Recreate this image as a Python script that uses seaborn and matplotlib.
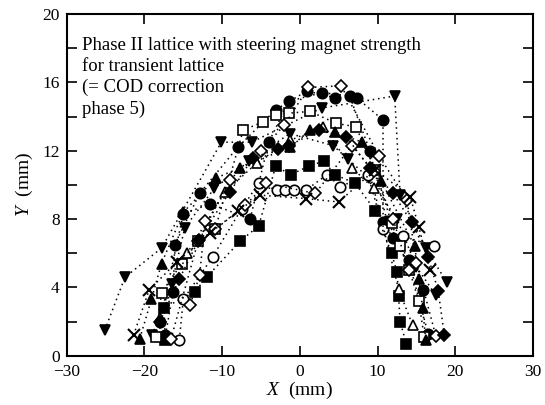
import matplotlib
matplotlib.use("Agg")
import matplotlib.pyplot as plt
import seaborn as sns
import pandas as pd

# ---- data ----
tri_down_a_x = [-25.1, -22.5, -17.8, -10.1, -6.2, 2.8, 12.2, 12.9, 16.2, 18.9]
tri_down_a_y = [1.5, 4.6, 6.3, 12.5, 12.5, 14.5, 15.2, 9.4, 6.3, 4.3]

tri_down_b_x = [-19.0, -16.5, -14.8, -11.0, -6.5, -1.3, 4.3, 6.2, 8.9, 12.5, 15.0, 17.5]
tri_down_b_y = [1.2, 4.2, 7.5, 9.8, 11.4, 13.0, 12.3, 11.5, 10.4, 8.0, 5.2, 3.55]

circ_fill_a_x = [-17.3, -16.3, -16.1, -12.9, -8.0, -3.1, 0.9, 4.5, 7.3, 10.7, 10.7, 12.0, 15.9]
circ_fill_a_y = [1.2, 3.75, 6.5, 9.5, 12.2, 14.4, 15.5, 15.1, 15.1, 13.8, 7.8, 6.9, 3.85]

circ_fill_b_x = [-18.0, -15.0, -11.5, -6.4, -4.0, -1.4, 2.9, 6.4, 9.0, 11.2, 14.0, 16.5]
circ_fill_b_y = [2.0, 8.3, 8.9, 8.0, 12.5, 14.9, 15.4, 15.2, 12.0, 7.9, 5.6, 1.3]

circ_open_x = [-15.5, -15.0, -11.2, -7.5, -5.3, -3.0, -1.9, -0.8, 0.8, 3.5, 5.2, 8.8, 10.7, 13.3, 17.3]
circ_open_y = [0.95, 3.3, 5.8, 8.6, 10.1, 9.7, 9.7, 9.7, 9.7, 10.6, 9.9, 10.6, 7.4, 7.0, 6.4]

sq_fill_x = [-17.3, -17.5, -13.5, -12.0, -7.7, -5.3, -3.1, -1.2, 1.2, 3.1, 4.5, 7.1, 9.7, 11.8, 12.5, 12.7, 12.9, 13.7]
sq_fill_y = [0.9, 2.8, 3.75, 4.6, 6.7, 7.6, 11.1, 10.6, 11.1, 11.4, 10.6, 10.1, 8.5, 6.0, 4.9, 3.5, 2.0, 0.7]

sq_open_x = [-18.5, -17.8, -15.2, -13.1, -10.9, -7.3, -4.7, -3.1, -1.4, 1.3, 4.7, 7.2, 9.7, 11.8, 12.9, 14.1, 15.3, 16.0]
sq_open_y = [1.1, 3.7, 5.4, 6.7, 7.4, 13.2, 13.7, 14.1, 14.2, 14.3, 13.6, 13.4, 10.9, 7.75, 6.4, 5.0, 3.2, 1.1]

tri_up_x = [-20.6, -19.1, -17.8, -15.0, -10.8, -7.7, -1.3, 1.3, 4.5, 8.0, 10.5, 14.8, 15.3, 15.8, 16.2]
tri_up_y = [1.0, 3.3, 5.4, 8.4, 10.4, 11.0, 12.2, 13.2, 13.1, 12.5, 10.2, 6.4, 4.5, 2.8, 0.9]

tri_open_x = [-18.0, -14.5, -9.6, -5.5, -1.3, 3.0, 6.7, 9.5, 12.7, 14.5]
tri_open_y = [2.2, 6.0, 9.6, 11.3, 12.6, 13.4, 11.0, 9.8, 3.9, 1.8]

dia_open_a_x = [-16.6, -13.1, -9.0, -5.0, -2.0, 1.1, 5.3, 10.2, 13.8, 15.0, 17.5]
dia_open_a_y = [0.96, 6.7, 10.3, 12.0, 13.5, 15.7, 15.8, 11.7, 9.1, 5.45, 1.15]

dia_open_b_x = [-14.1, -12.9, -12.2, -10.9, -7.0, -4.3, 2.0, 6.7, 9.5, 12.0, 14.0]
dia_open_b_y = [3.0, 4.7, 7.9, 7.4, 8.8, 10.1, 9.5, 12.3, 10.8, 8.0, 5.0]

dia_fill_x = [-18.0, -15.5, -13.0, -9.0, -6.0, -2.8, -1.4, 2.5, 6.0, 9.0, 12.0, 14.4, 16.5, 17.8, 18.6]
dia_fill_y = [2.0, 4.5, 6.8, 9.6, 11.6, 12.1, 12.3, 13.2, 12.8, 11.0, 9.5, 7.8, 5.8, 3.8, 1.2]

cross_x = [-21.4, -19.4, -15.8, -11.5, -7.9, -5.1, 0.8, 5.0, 9.7, 14.2, 15.3, 16.8]
cross_y = [1.2, 3.85, 5.5, 7.2, 8.5, 9.4, 9.2, 9.0, 10.9, 9.3, 7.55, 5.0]

x_ticks = [-30, -20, -10, 0, 10, 20, 30]
x_tick_labels = ["\u221230", "\u221220", "\u221210", "0", "10", "20", "30"]
y_ticks = [0, 2, 4, 6, 8, 10, 12, 14, 16, 18, 20]
y_tick_labels = ["0", "", "4", "", "8", "", "12", "", "16", "", "20"]

note_text = ("Phase II lattice with steering magnet strength\n"
             "for transient lattice\n"
             "(= COD correction\n"
             "phase 5)")

# ---- style ----
sns.set_theme(style="ticks")
plt.rcParams["font.family"] = ["Liberation Serif", "DejaVu Serif", "DejaVu Sans"]
plt.rcParams["mathtext.fontset"] = "custom"
plt.rcParams["mathtext.it"] = "Liberation Serif:italic"
plt.rcParams["mathtext.rm"] = "Liberation Serif"

fig = plt.figure(figsize=(5.45, 4.05), dpi=100)
ax = fig.add_axes([0.1224, 0.1215, 0.8556, 0.8439])

series = [
    (tri_down_a_x, tri_down_a_y, "v", "black", 7.5),
    (tri_down_b_x, tri_down_b_y, "v", "black", 7.5),
    (circ_fill_a_x, circ_fill_a_y, "o", "black", 7.5),
    (circ_fill_b_x, circ_fill_b_y, "o", "black", 7.5),
    (circ_open_x, circ_open_y, "o", "white", 7.5),
    (sq_fill_x, sq_fill_y, "s", "black", 7),
    (sq_open_x, sq_open_y, "s", "white", 7),
    (tri_up_x, tri_up_y, "^", "black", 7.5),
    (tri_open_x, tri_open_y, "^", "white", 7.5),
    (dia_open_a_x, dia_open_a_y, "D", "white", 6),
    (dia_open_b_x, dia_open_b_y, "D", "white", 6),
    (dia_fill_x, dia_fill_y, "D", "black", 6),
    (cross_x, cross_y, "x", "black", 8),
]

for i, (xs, ys, mk, fc, ms) in enumerate(series):
    df = pd.DataFrame({"x": xs, "y": ys})
    sns.lineplot(data=df, x="x", y="y", sort=False, estimator=None, ax=ax,
                 color="black", linestyle=(0, (1, 2.5)), linewidth=1.1,
                 marker=mk, markersize=ms, markerfacecolor=fc,
                 markeredgecolor="black", markeredgewidth=1.2 if mk != "x" else 1.5,
                 zorder=3 + i)

ax.set_xlim(-30, 30)
ax.set_ylim(0, 20)
ax.set_xticks(x_ticks)
ax.set_xticklabels(x_tick_labels)
ax.set_yticks(y_ticks)
ax.set_yticklabels(y_tick_labels)
ax.tick_params(direction="in", length=7, width=1.2, top=True, right=True,
               labelsize=12.5, colors="black")
ax.tick_params(axis="x", pad=6)
ax.tick_params(axis="y", pad=5)
for s in ax.spines.values():
    s.set_linewidth(1.5)
    s.set_color("black")

ax.set_xlabel(r"$X$  (mm)", fontsize=14, color="black", labelpad=0)
ax.set_ylabel(r"$Y$  (mm)", fontsize=14, color="black", labelpad=5)

ax.text(0.032, 0.932, note_text, transform=ax.transAxes, ha="left", va="top",
        fontsize=13.5, linespacing=1.3, color="black")

fig.savefig("out.png", dpi=100)
